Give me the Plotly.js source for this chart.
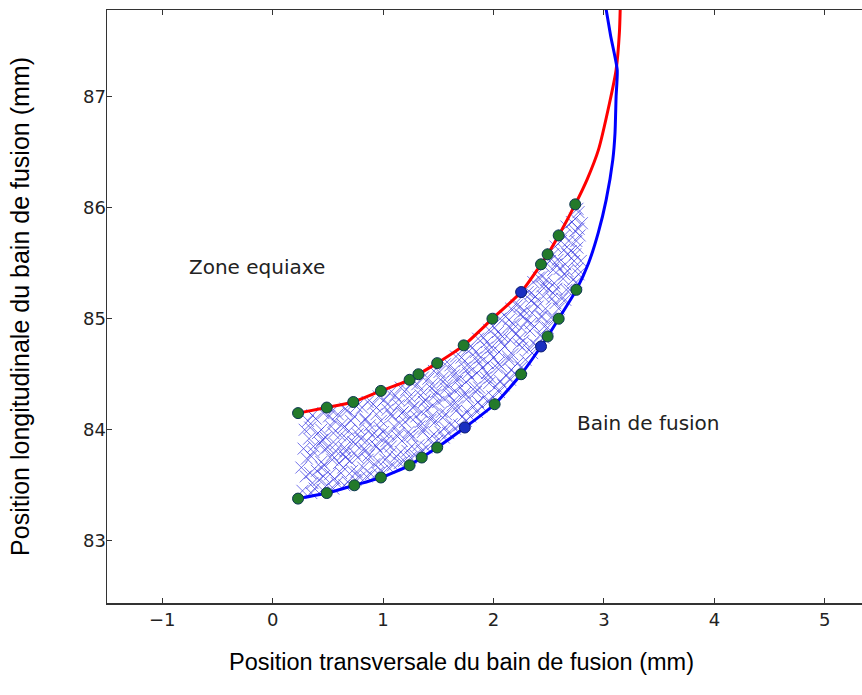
<!DOCTYPE html>
<html>
<head>
<meta charset="utf-8">
<script src="https://cdn.plot.ly/plotly-3.0.1.min.js"></script>
<style>html,body{margin:0;padding:0;overflow:hidden;background:#fff;}</style>
</head>
<body>
<div id="chart" style="width:872px;height:695px;"></div>
<script>
// Upper boundary (red) and lower boundary (blue) curves
const redX = [0.23, 0.49, 0.73, 0.98, 1.24, 1.32, 1.49, 1.73, 1.99, 2.25, 2.43, 2.49, 2.59, 2.74, 2.85, 2.95, 3.05, 3.11, 3.14, 3.15];
const redY = [84.15, 84.20, 84.25, 84.35, 84.45, 84.50, 84.60, 84.76, 85.00, 85.24, 85.49, 85.58, 85.75, 86.03, 86.26, 86.52, 86.94, 87.24, 87.58, 87.90];
const blueX = [0.23, 0.49, 0.74, 0.98, 1.24, 1.35, 1.49, 1.74, 2.01, 2.25, 2.43, 2.49, 2.59, 2.75, 2.86, 2.95, 3.02, 3.08, 3.10, 3.11, 3.12, 3.06, 3.00];
const blueY = [83.38, 83.43, 83.50, 83.57, 83.68, 83.75, 83.84, 84.02, 84.23, 84.50, 84.75, 84.84, 85.00, 85.26, 85.50, 85.78, 86.07, 86.43, 86.67, 87.00, 87.24, 87.55, 87.90];

// Measured points (green dots) on both boundaries
const dotUpX = [0.23, 0.49, 0.73, 0.98, 1.24, 1.32, 1.49, 1.73, 1.99, 2.43, 2.49, 2.59, 2.74];
const dotUpY = [84.15, 84.20, 84.25, 84.35, 84.45, 84.50, 84.60, 84.76, 85.00, 85.49, 85.58, 85.75, 86.03];
const dotLowX = [0.23, 0.49, 0.74, 0.98, 1.24, 1.35, 1.49, 2.01, 2.25, 2.49, 2.59, 2.75];
const dotLowY = [83.38, 83.43, 83.50, 83.57, 83.68, 83.75, 83.84, 84.23, 84.50, 84.84, 85.00, 85.26];
const blueDotX = [2.25, 1.74, 2.43];
const blueDotY = [85.24, 84.02, 84.75];

// Crosses filling the mushy zone (two interleaved groups)
const crossX = [
 0.27,0.30,0.26,0.31,0.28,0.33,0.29,0.32,
 0.38,0.42,0.40,0.44,0.37,0.43,0.41,0.39,
 0.49,0.52,0.47,0.54,0.50,0.48,0.53,0.51,
 0.58,0.62,0.60,0.64,0.57,0.61,0.63,0.59,
 0.68,0.72,0.70,0.66,0.73,0.69,0.71,0.67,
 0.79,0.82,0.77,0.83,0.80,0.78,0.84,0.81,
 0.89,0.92,0.87,0.93,0.90,0.88,0.94,0.91,
 0.99,1.02,0.97,1.03,1.00,0.98,1.04,1.01,
 1.09,1.12,1.07,1.13,1.10,1.08,1.14,1.11,
 1.19,1.22,1.17,1.23,1.20,1.18,1.24,1.21,
 1.29,1.32,1.27,1.33,1.30,1.28,1.34,1.31,
 1.39,1.42,1.37,1.43,1.40,1.38,1.44,1.41,
 1.49,1.52,1.47,1.53,1.50,1.48,1.54,1.51,
 1.59,1.62,1.57,1.63,1.60,1.58,1.64,1.61,
 1.69,1.72,1.67,1.73,1.70,1.68,1.74,1.71,
 1.79,1.82,1.77,1.83,1.80,1.78,1.84,1.81,
 1.89,1.92,1.87,1.93,1.90,1.88,1.94,1.91,
 1.99,2.02,1.97,2.03,2.00,1.98,2.04,2.01,
 2.09,2.12,2.07,2.13,2.10,2.08,2.14,2.11,
 2.19,2.22,2.17,2.23,2.20,2.18,2.24,2.21,
 2.29,2.32,2.27,2.33,2.30,2.28,2.34,2.31,
 2.39,2.42,2.37,2.43,2.40,2.38,2.44,2.41,
 2.49,2.52,2.47,2.53,2.50,2.48,2.54,2.51,
 2.59,2.62,2.57,2.63,2.60,2.58,2.64,2.61,
 2.69,2.72,2.67,2.73,2.70,2.68,2.74,2.71,
 2.77,2.79,2.76,2.78,2.80,2.77
];
const crossY = [
 83.45,83.58,83.66,83.74,83.83,83.92,84.00,84.08,
 83.47,83.55,83.63,83.71,83.80,83.88,83.97,84.10,
 83.50,83.60,83.68,83.77,83.84,83.93,84.03,84.12,
 83.52,83.61,83.70,83.78,83.87,83.95,84.05,84.14,
 83.53,83.63,83.72,83.81,83.89,83.99,84.08,84.17,
 83.57,83.66,83.75,83.83,83.92,84.01,84.10,84.20,
 83.60,83.69,83.77,83.86,83.95,84.04,84.14,84.23,
 83.63,83.73,83.81,83.90,83.98,84.08,84.18,84.27,
 83.68,83.76,83.85,83.94,84.03,84.12,84.22,84.31,
 83.72,83.81,83.90,83.98,84.07,84.16,84.26,84.36,
 83.77,83.86,83.94,84.03,84.12,84.21,84.31,84.41,
 83.84,83.92,84.01,84.09,84.18,84.27,84.37,84.46,
 83.90,83.98,84.07,84.16,84.25,84.34,84.43,84.52,
 83.97,84.05,84.14,84.22,84.31,84.40,84.49,84.58,
 84.04,84.12,84.21,84.30,84.38,84.47,84.56,84.65,
 84.12,84.21,84.29,84.38,84.47,84.56,84.65,84.74,
 84.21,84.30,84.38,84.47,84.56,84.65,84.74,84.83,
 84.30,84.39,84.47,84.56,84.65,84.74,84.83,84.92,
 84.40,84.49,84.57,84.66,84.75,84.84,84.93,85.02,
 84.51,84.60,84.68,84.77,84.86,84.95,85.04,85.12,
 84.63,84.72,84.80,84.89,84.98,85.07,85.16,85.24,
 84.76,84.85,84.93,85.02,85.11,85.20,85.29,85.37,
 84.92,85.01,85.09,85.18,85.27,85.35,85.44,85.52,
 85.09,85.18,85.27,85.36,85.45,85.53,85.62,85.70,
 85.26,85.35,85.43,85.52,85.61,85.70,85.79,85.87,
 85.40,85.52,85.64,85.75,85.86,85.96
];
const crossX2 = [
 0.35,0.36,0.34,0.35,0.37,0.34,0.36,
 0.45,0.46,0.44,0.47,0.45,0.44,0.46,
 0.55,0.56,0.54,0.57,0.55,0.56,0.54,
 0.65,0.64,0.66,0.65,0.67,0.64,0.66,
 0.75,0.76,0.74,0.75,0.77,0.74,0.76,
 0.85,0.86,0.84,0.85,0.87,0.84,0.86,
 0.95,0.96,0.94,0.95,0.97,0.94,0.96,
 1.05,1.06,1.04,1.05,1.07,1.04,1.06,
 1.15,1.16,1.14,1.15,1.17,1.14,1.16,
 1.25,1.26,1.24,1.25,1.27,1.24,1.26,
 1.35,1.36,1.34,1.35,1.37,1.34,1.36,
 1.45,1.46,1.44,1.45,1.47,1.44,1.46,
 1.55,1.56,1.54,1.55,1.57,1.54,1.56,
 1.65,1.66,1.64,1.65,1.67,1.64,1.66,
 1.75,1.76,1.74,1.75,1.77,1.74,1.76,
 1.85,1.86,1.84,1.85,1.87,1.84,1.86,
 1.95,1.96,1.94,1.95,1.97,1.94,1.96,
 2.05,2.06,2.04,2.05,2.07,2.04,2.06,
 2.15,2.16,2.14,2.15,2.17,2.14,2.16,
 2.25,2.26,2.24,2.25,2.27,2.24,2.26,
 2.35,2.36,2.34,2.35,2.37,2.34,2.36,
 2.45,2.46,2.44,2.45,2.47,2.44,2.46,
 2.55,2.56,2.54,2.55,2.57,2.54,2.56,
 2.65,2.66,2.64,2.65,2.67,2.64,2.66,
 2.75,2.76,2.74,2.75,2.77,2.74,2.76
];
const crossY2 = [
 83.43,83.52,83.61,83.76,83.85,84.02,84.13,
 83.46,83.58,83.66,83.82,83.91,84.00,84.15,
 83.47,83.56,83.73,83.81,83.97,84.08,84.17,
 83.50,83.66,83.75,83.84,83.92,84.02,84.19,
 83.55,83.62,83.79,83.87,83.96,84.12,84.21,
 83.58,83.73,83.81,83.90,83.99,84.09,84.25,
 83.61,83.71,83.85,83.94,84.02,84.20,84.30,
 83.66,83.78,83.87,83.96,84.14,84.23,84.33,
 83.70,83.80,83.97,84.06,84.15,84.27,84.38,
 83.75,83.85,83.95,84.11,84.20,84.30,84.42,
 83.81,83.98,84.07,84.16,84.25,84.36,84.47,
 83.87,83.96,84.12,84.22,84.31,84.41,84.53,
 83.93,84.02,84.11,84.28,84.37,84.47,84.59,
 84.01,84.17,84.26,84.35,84.44,84.53,84.66,
 84.08,84.17,84.33,84.43,84.51,84.62,84.72,
 84.16,84.25,84.34,84.51,84.60,84.70,84.82,
 84.25,84.42,84.51,84.60,84.69,84.79,84.90,
 84.34,84.44,84.60,84.70,84.79,84.88,85.00,
 84.45,84.54,84.63,84.81,84.90,84.99,85.09,
 84.56,84.74,84.83,84.92,85.02,85.11,85.20,
 84.69,84.78,84.96,85.05,85.14,85.23,85.33,
 84.83,84.93,85.02,85.20,85.29,85.38,85.47,
 85.00,85.14,85.23,85.32,85.49,85.58,85.65,
 85.17,85.26,85.40,85.49,85.58,85.75,85.83,
 85.33,85.45,85.58,85.70,85.81,85.90,85.99
];

const xTicks = [-1, 0, 1, 2, 3, 4, 5];
const xTickText = ['\u22121', '0', '1', '2', '3', '4', '5'];
const yTicks = [83, 84, 85, 86, 87];

const crossMarker = {symbol: 'x-thin', size: 12, line: {width: 1, color: 'rgba(55,55,225,0.7)'}};
const dotMarker = {symbol: 'circle', size: 11, color: '#237a2a', line: {width: 1, color: '#0b3550'}};

const traces = [
  {x: crossX, y: crossY, mode: 'markers', type: 'scatter', marker: crossMarker},
  {x: crossX2, y: crossY2, mode: 'markers', type: 'scatter', marker: crossMarker},
  {x: redX, y: redY, mode: 'lines', type: 'scatter', line: {color: '#ff0000', width: 3, shape: 'spline', smoothing: 0.6}},
  {x: blueX, y: blueY, mode: 'lines', type: 'scatter', line: {color: '#0000ff', width: 3, shape: 'spline', smoothing: 0.6}},
  {x: blueDotX, y: blueDotY, mode: 'markers', type: 'scatter',
   marker: {symbol: 'circle', size: 11, color: '#1a2fc0', line: {width: 1, color: '#0a1a70'}}},
  {x: dotUpX, y: dotUpY, mode: 'markers', type: 'scatter', marker: dotMarker},
  {x: dotLowX, y: dotLowY, mode: 'markers', type: 'scatter', marker: dotMarker}
];

const axisCommon = {
  showgrid: false, zeroline: false, showline: true, linecolor: '#333', linewidth: 1.5,
  mirror: 'ticks', ticks: 'inside', ticklen: 5, tickcolor: '#333',
  tickfont: {family: 'DejaVu Sans', size: 18, color: '#222'}
};

const layout = {
  width: 872, height: 695,
  margin: {l: 107, r: 3, t: 10, b: 92},
  paper_bgcolor: '#fff', plot_bgcolor: '#fff',
  showlegend: false,
  xaxis: Object.assign({}, axisCommon, {range: [-1.5, 5.4], tickvals: xTicks, ticktext: xTickText}),
  yaxis: Object.assign({}, axisCommon, {range: [82.44, 87.78], tickvals: yTicks, ticklabelstandoff: -4,
    title: {text: 'Position longitudinale du bain de fusion (mm)', standoff: 46,
      font: {family: 'Liberation Sans', size: 25, color: '#000'}}}),
  annotations: [
    {x: -0.14, y: 85.47, xref: 'x', yref: 'y', text: 'Zone equiaxe', showarrow: false,
     font: {family: 'DejaVu Sans', size: 20, color: '#222'}},
    {x: 3.40, y: 84.06, xref: 'x', yref: 'y', text: 'Bain de fusion', showarrow: false,
     font: {family: 'DejaVu Sans', size: 20, color: '#222'}},
    {x: (461 - 107) / 762, y: -(677 - 603) / 593, xref: 'paper', yref: 'paper',
     text: 'Position transversale du bain de fusion (mm)', showarrow: false,
     font: {family: 'Liberation Sans', size: 23.5, color: '#000'}}
  ]
};

Plotly.newPlot('chart', traces, layout, {displayModeBar: false, staticPlot: true});
</script>
</body>
</html>
